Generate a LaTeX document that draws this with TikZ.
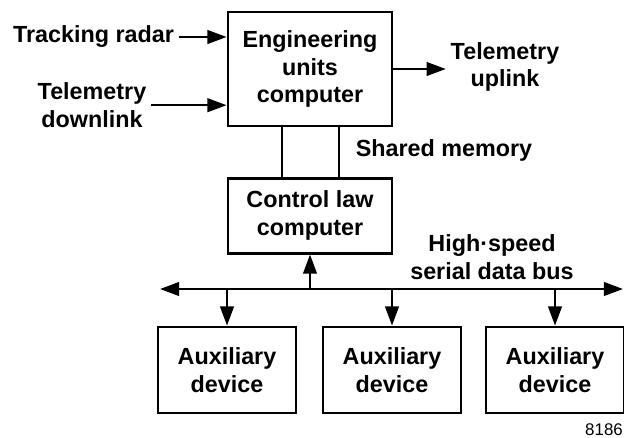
\documentclass[tikz,border=0pt]{standalone}
\usepackage{fontspec}
\setmainfont{Liberation Sans}
\usetikzlibrary{arrows.meta, positioning, calc}

\begin{document}
\begin{tikzpicture}[
    txt/.style={align=center,font=\bfseries\fontsize{16.6}{19.5}\selectfont},
    box/.style={txt,draw,line width=2pt,minimum width=4.1cm},
    auxbox/.style={box,minimum width=3.45cm,minimum height=2.15cm},
    arr/.style={-{Triangle[length=0.48cm,width=0.34cm]},line width=1.7pt},
    link/.style={line width=1.7pt}
]
    \useasboundingbox (0,0) rectangle (15.6,-10.95);

    \node[box,minimum height=2.85cm] (eng) at (7.75,-1.725) {Engineering\\units\\computer};
    \node[box,minimum height=1.875cm] (ctrl) at (7.75,-5.39) {Control law\\computer};
    \foreach \x/\n in {5.675/1, 9.8/2, 13.875/3}
        \node[auxbox] (aux\n) at (\x,-9.25) {Auxiliary\\device};

    \node[txt] (radar) at (2.34,-0.925) {Tracking radar};
    \node[txt] (down) at (2.3,-2.63) {Telemetry\\downlink};
    \node[txt] (up) at (12.625,-1.68) {Telemetry\\uplink};
    \node[txt] (shared) at (11.1,-3.75) {Shared memory};
    \node[txt] (busname) at (12.3,-6.43) {High·speed\\serial data bus};
    \node[font=\fontsize{12}{14}\selectfont] (fig) at (15.1,-10.75) {8186};

    \draw[arr] (radar.east) -- (radar.east -| eng.west);
    \draw[arr] (down.east) -- (down.east -| eng.west);
    \draw[arr] (eng.east) -- (eng.east -| up.west);

    % shared memory
    \draw[link] ($(eng.south)+(-0.7,0)$) -- ($(ctrl.north)+(-0.7,0)$);
    \draw[link] ($(eng.south)+(0.725,0)$) -- ($(ctrl.north)+(0.725,0)$);

    % serial bus
    \coordinate (busL) at (4.0,-7.225);
    \coordinate (busR) at (15.575,-7.225);
    \draw[{Triangle[length=0.48cm,width=0.34cm]}-{Triangle[length=0.48cm,width=0.34cm]},line width=1.7pt] (busL) -- (busR);
    \draw[arr] (ctrl.south |- busL) -- (ctrl.south);
    \foreach \n in {1,2,3}
        \draw[arr] (aux\n.north |- busL) -- (aux\n.north);
\end{tikzpicture}
\end{document}
